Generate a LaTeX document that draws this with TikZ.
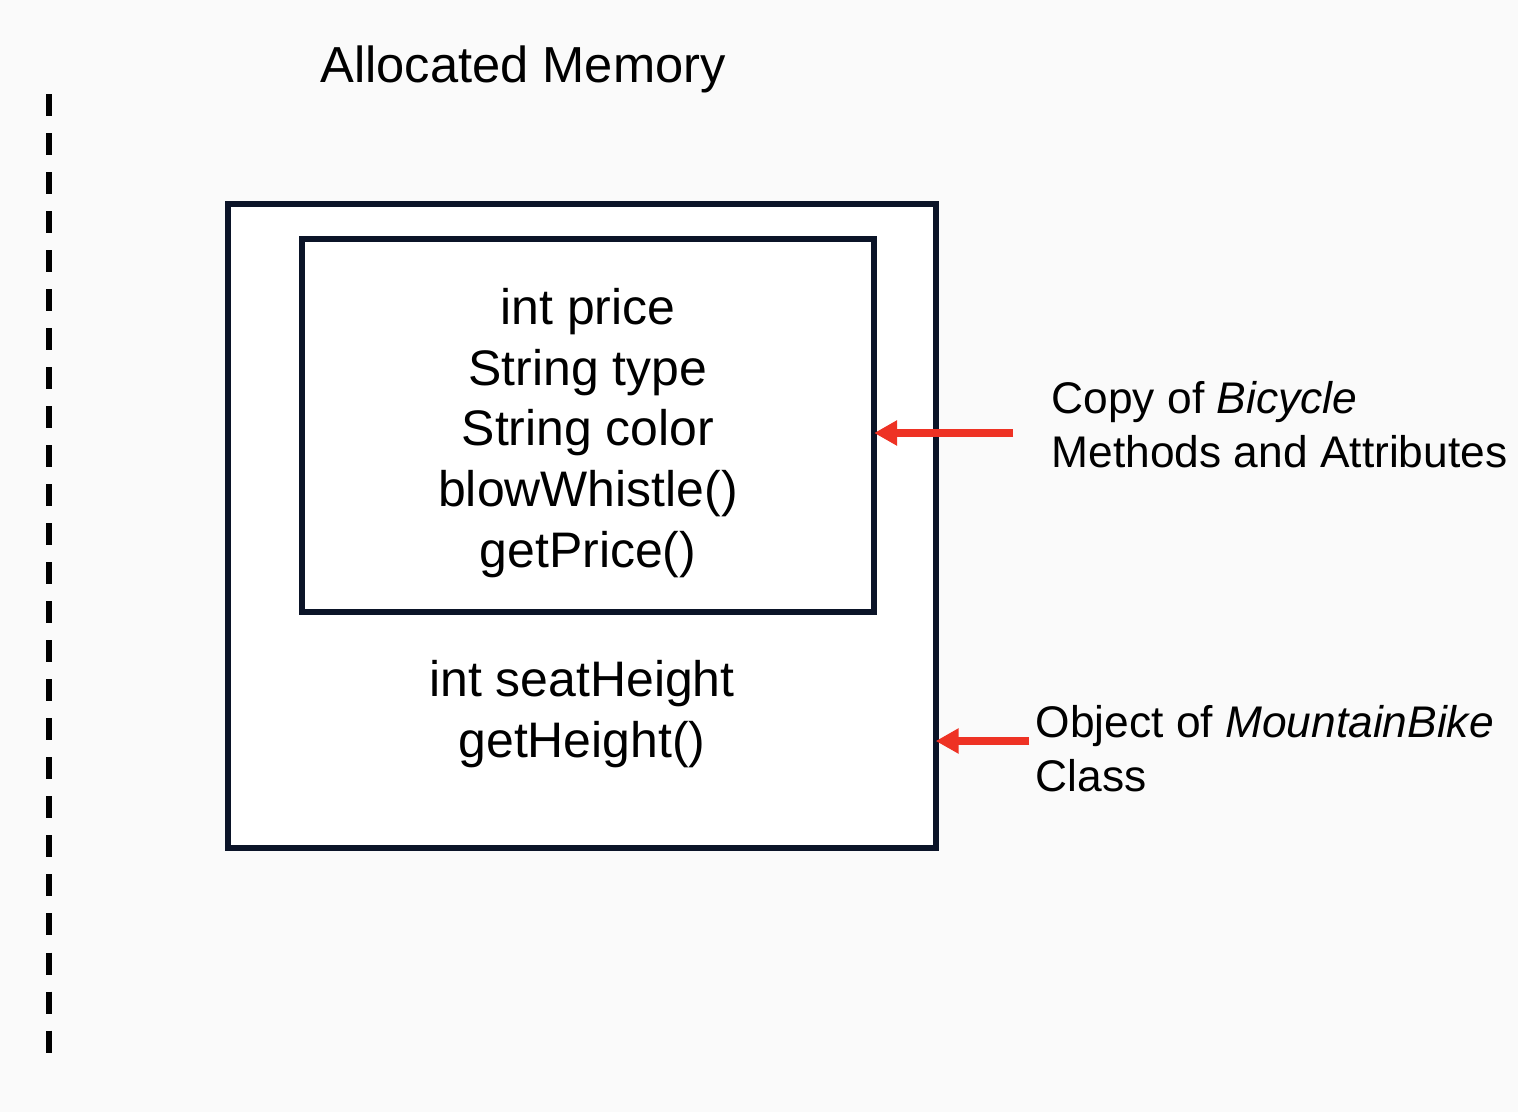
\documentclass[tikz,border=0pt]{standalone}
\usepackage{fontspec}
\setmainfont{Liberation Sans}
\usepackage{tikz}
\usetikzlibrary{arrows.meta}

\definecolor{bgcol}{HTML}{FAFAFA}
\definecolor{boxcol}{HTML}{0B1428}
\definecolor{arrowcol}{HTML}{EE3224}

\tikzset{
  membox/.style={draw=boxcol, line width=1.75pt, fill=white, inner sep=0pt, outer sep=0pt},
  bigtext/.style={font=\fontsize{14.2}{17.3}\selectfont, align=center, inner sep=0pt},
  sidetext/.style={font=\fontsize{12.6}{15.4}\selectfont, align=left, inner sep=0pt},
  pointer/.style={draw=arrowcol, line width=2pt, -{Triangle[length=0.23cm, width=0.24cm]}}
}

\begin{document}
\begin{tikzpicture}[x=0.01cm, y=-0.01cm]
\fill[bgcol] (0,0) rectangle (1518,1112);
\useasboundingbox (0,0) rectangle (1518,1112);

% stack boundary
\coordinate (top) at (49,94);
\coordinate (bottom) at (49,1058);
\draw[black, line width=1.7pt, dash pattern=on 0.22cm off 0.17cm] (top) -- (bottom);

\node (title) at (523,69) {\fontsize{14.4}{17}\selectfont Allocated Memory};

% object box and copy of the parent part
\node[membox, minimum width=7.07cm, minimum height=6.43cm] (outer) at (582,526) {};
\node[membox, minimum width=5.72cm, minimum height=3.73cm] (inner) at (588,425.5) {};

\node[bigtext] (parent) at (588,433) {int price\\String type\\String color\\blowWhistle()\\getPrice()};
\node[bigtext] (child) at (582,714) {int seatHeight\\getHeight()};

\node[sidetext, anchor=west] (copy) at (1051,425) {Copy of \textit{Bicycle}\\Methods and Attributes};
\node[sidetext, anchor=west] (object) at (1035,749) {Object of \textit{MountainBike}\\Class};

\coordinate (c1) at (1013,433);
\coordinate (c2) at (1029,741);
\draw[pointer] (c1) -- (inner.east |- c1);
\draw[pointer] (c2) -- (outer.east |- c2);
\end{tikzpicture}
\end{document}
